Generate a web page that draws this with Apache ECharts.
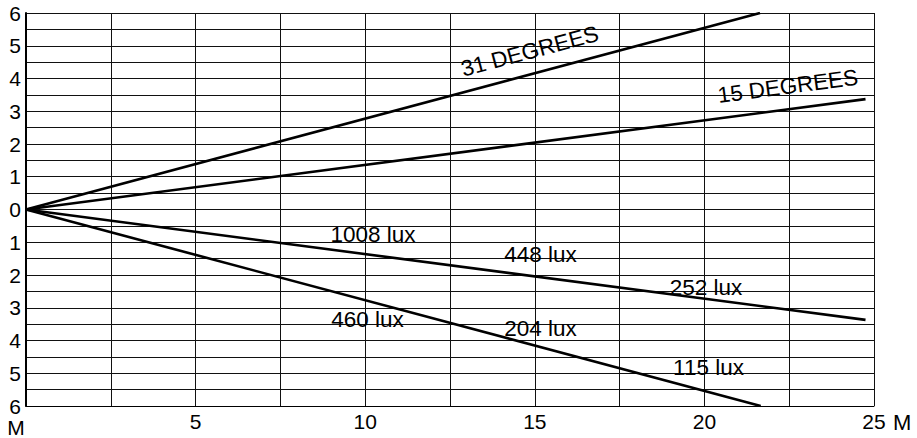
<!DOCTYPE html>
<html>
<head>
<meta charset="utf-8">
<script src="https://cdn.jsdelivr.net/npm/echarts@6/dist/echarts.min.js"></script>
<style>html,body{margin:0;padding:0;background:#fff;}#c{width:917px;height:438px;}</style>
</head>
<body>
<div id="c"></div>
<script>
// Beam lines (distance M, half-width M)
const beam31Upper = [[0, 0], [21.64, 6]];
const beam15Upper = [[0, 0], [24.75, 3.37]];
const beam15Lower = [[0, 0], [24.75, -3.37]];
const beam31Lower = [[0, 0], [21.66, -6]];

// Line annotations: [x, y, text, rotation]
const angleLabels = [
  [14.85, 4.83, '31 DEGREES', 15],
  [22.46, 3.76, '15 DEGREES', 7.5]
];
const luxLabels = [
  [10.23, -0.75, '1008 lux'],
  [15.17, -1.36, '448 lux'],
  [20.05, -2.39, '252 lux'],
  [10.07, -3.35, '460 lux'],
  [15.17, -3.64, '204 lux'],
  [20.12, -4.83, '115 lux']
];

// Axis ticks
const xMin = 0, xMax = 25, xStep = 2.5;
const yMin = -6, yMax = 6, yStep = 0.5;

const FONT = 'Liberation Sans, Arial, sans-serif';
const chart = echarts.init(document.getElementById('c'), null, {renderer: 'svg'});

const lineSeries = (data) => ({
  type: 'line', data: data, showSymbol: false, symbol: 'none', silent: true,
  lineStyle: {color: '#000', width: 2.6}, z: 5
});

const labelStyle = (text, rot) => ({
  show: true, position: 'inside', formatter: text, rotate: rot || 0,
  color: '#000', fontFamily: FONT, fontSize: 22.5, opacity: 1,
  textBorderWidth: 0, textBorderColor: 'transparent', textShadowBlur: 0
});

chart.setOption({
  animation: false,
  backgroundColor: '#fff',
  grid: {left: 26, right: 43, top: 13, bottom: 32, containLabel: false, outerBoundsMode: 'none'},
  xAxis: {
    type: 'value', min: xMin, max: xMax, interval: xStep,
    name: 'M', nameLocation: 'end', nameGap: 19,
    nameTextStyle: {color: '#000', fontFamily: FONT, fontSize: 22, align: 'left', verticalAlign: 'top', padding: [5, 0, 0, 0]},
    axisLine: {onZero: false, lineStyle: {color: '#000', width: 1}},
    axisTick: {show: false},
    splitLine: {show: true, lineStyle: {color: '#111', width: 1}},
    axisLabel: {
      color: '#000', fontFamily: FONT, fontSize: 21, margin: 5,
      formatter: (v) => (v > 0 && v % 5 === 0) ? String(v) : ''
    }
  },
  yAxis: {
    type: 'value', min: yMin, max: yMax, interval: yStep,
    name: 'M', nameLocation: 'start', nameGap: 12,
    nameTextStyle: {color: '#000', fontFamily: FONT, fontSize: 21, lineHeight: 19, align: 'center', verticalAlign: 'top', padding: [0, 20, 0, 0]},
    axisLine: {show: true, onZero: false, lineStyle: {color: '#000', width: 2}},
    axisTick: {show: false},
    splitLine: {show: true, lineStyle: {color: '#111', width: 1}},
    axisLabel: {
      color: '#000', fontFamily: FONT, fontSize: 21, margin: 5,
      formatter: (v) => Number.isInteger(v) ? String(Math.abs(v)) : ''
    }
  },
  series: [
    lineSeries(beam31Upper),
    lineSeries(beam15Upper),
    lineSeries(beam15Lower),
    lineSeries(beam31Lower),
    {
      type: 'scatter', symbolSize: 0, silent: true, z: 6,
      itemStyle: {color: '#000', opacity: 1},
      data: angleLabels.map(d => ({value: [d[0], d[1]], label: labelStyle(d[2], d[3])}))
        .concat(luxLabels.map(d => ({value: [d[0], d[1]], label: labelStyle(d[2])})))
    }
  ]
});
</script>
</body>
</html>
